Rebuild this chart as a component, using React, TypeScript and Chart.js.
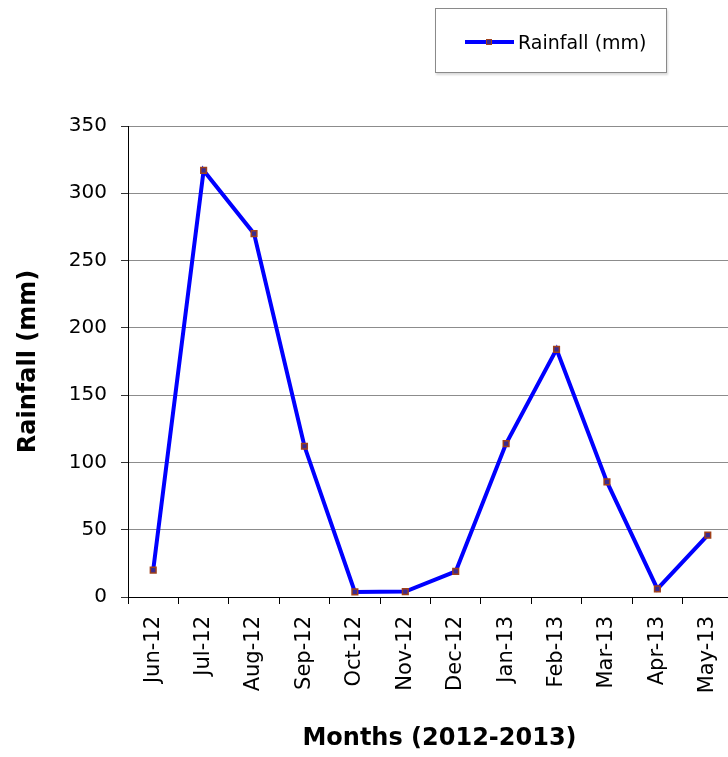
import React, { useEffect, useRef } from "react";
import { Chart, registerables } from "chart.js";

Chart.register(...registerables);

const months = ["Jun-12", "Jul-12", "Aug-12", "Sep-12", "Oct-12", "Nov-12", "Dec-12", "Jan-13", "Feb-13", "Mar-13", "Apr-13", "May-13"];
const rainfall = [20, 317, 270, 112, 3.8, 4, 19, 114, 184, 85.5, 6, 46];
const seriesLabel = "Rainfall (mm)";
const xTitle = "Months (2012-2013)";
const yTitle = "Rainfall (mm)";

const FONT = "'DejaVu Sans', sans-serif";

export default function App() {
  const ref = useRef<HTMLCanvasElement | null>(null);

  useEffect(() => {
    if (!ref.current) return;
    const xTitlePlugin = {
      id: "xTitle",
      afterDraw(chart: any) {
        const ctx = chart.ctx;
        const area = chart.chartArea;
        ctx.save();
        ctx.font = `bold 24px ${FONT}`;
        ctx.fillStyle = "#000";
        ctx.textAlign = "center";
        ctx.textBaseline = "middle";
        ctx.fillText(xTitle, (area.left + area.right) / 2 + 9, chart.height - 18);
        ctx.restore();
      },
    };
    const chart = new Chart(ref.current, {
      type: "line",
      data: {
        labels: months,
        datasets: [
          {
            label: seriesLabel,
            data: rainfall,
            borderColor: "#0000ff",
            borderWidth: 4,
            tension: 0,
            pointStyle: "rect",
            pointRadius: 4,
            pointBorderWidth: 1.5,
            pointBorderColor: "#a0401a",
            pointBackgroundColor: "#3a2a90",
            fill: false,
          },
        ],
      },
      options: {
        animation: false,
        responsive: false,
        layout: { padding: { top: 126, right: 27, left: 0, bottom: 0 } },
        plugins: {
          legend: { display: false },
          tooltip: { enabled: false },
        },
        scales: {
          x: {
            type: "category",
            offset: true,
            afterFit(scale: any) {
              scale.height = 160;
            },
            grid: {
              display: true,
              drawOnChartArea: false,
              drawTicks: true,
              tickLength: 7,
              tickColor: "#000",
              offset: true,
            },
            border: { display: true, color: "#000", width: 1 },
            ticks: {
              minRotation: 90,
              maxRotation: 90,
              autoSkip: false,
              padding: 12,
              color: "#000",
              font: { family: FONT, size: 21 },
            },
          },
          y: {
            min: 0,
            max: 350,
            afterFit(scale: any) {
              scale.width = 128;
            },
            ticks: {
              stepSize: 50,
              padding: 14,
              color: "#000",
              font: { family: FONT, size: 20 },
            },
            grid: {
              color: "#8c8c8c",
              lineWidth: 1,
              tickLength: 7,
              tickColor: "#333",
            },
            border: { display: true, color: "#000", width: 1 },
            title: {
              display: true,
              text: yTitle,
              color: "#000",
              font: { family: FONT, size: 24, weight: "bold" },
              padding: { top: 14, bottom: 0 },
            },
          },
        },
      },
      plugins: [xTitlePlugin],
    });
    return () => chart.destroy();
  }, []);

  return (
    <div style={{ position: "absolute", left: 0, top: 0, width: 728, height: 757, overflow: "hidden", background: "#fff" }}>
      <canvas ref={ref} width={760} height={757} style={{ display: "block" }} />
      <div
        style={{
          position: "absolute",
          left: 435,
          top: 8,
          width: 232,
          height: 65,
          border: "1.5px solid #8a8a8a",
          boxShadow: "1px 2px 2px rgba(0,0,0,0.15)",
          background: "#fff",
          boxSizing: "border-box",
        }}
      >
        <div style={{ position: "absolute", left: 29, top: 31, width: 49, height: 4, background: "#0000ff" }} />
        <div
          style={{
            position: "absolute",
            left: 50,
            top: 30,
            width: 6,
            height: 6,
            boxSizing: "border-box",
            border: "1.5px solid #a0401a",
            background: "#3a2a90",
          }}
        />
        <span
          style={{
            position: "absolute",
            left: 82,
            top: 21,
            fontFamily: FONT,
            fontSize: 19,
            lineHeight: "24px",
            color: "#000",
            whiteSpace: "nowrap",
          }}
        >
          {seriesLabel}
        </span>
      </div>
    </div>
  );
}
